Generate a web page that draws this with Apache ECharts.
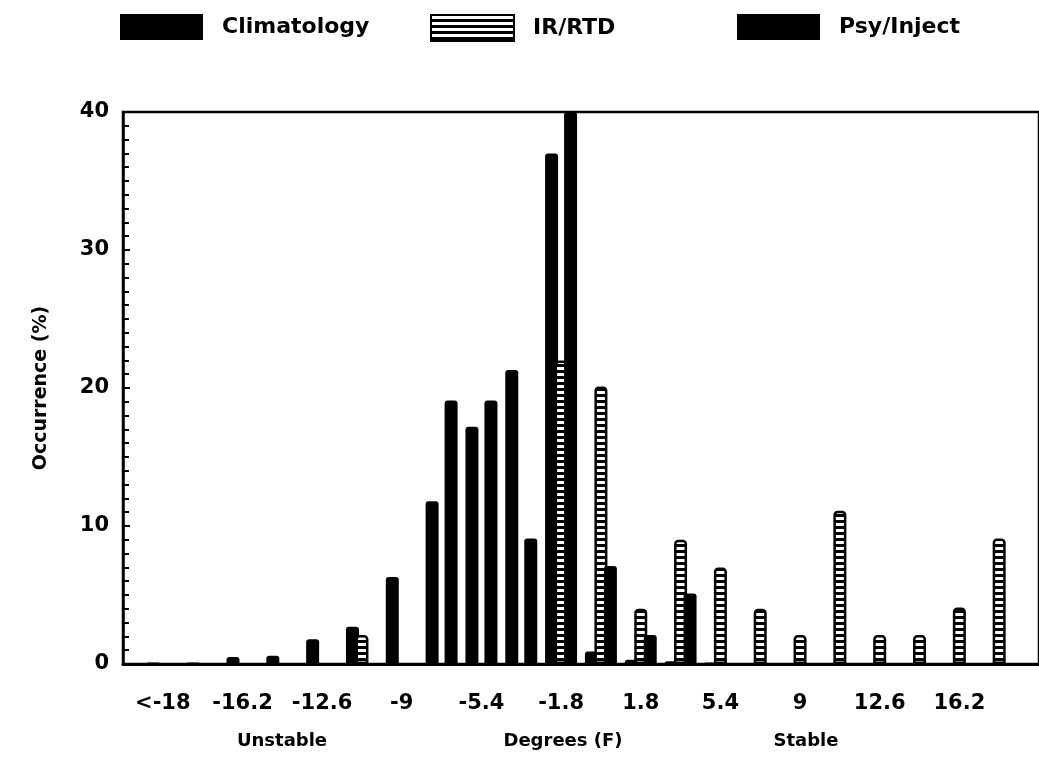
<!DOCTYPE html>
<html>
<head>
<meta charset="utf-8">
<script src="https://cdn.jsdelivr.net/npm/echarts@6/dist/echarts.min.js"></script>
<style>html,body{margin:0;padding:0;background:#fff;}#c{width:1039px;height:759px;}</style>
</head>
<body>
<div id="c"></div>
<script>
// Categories (bin labels, degrees F); blank pads at both ends
const categories = ['', '<-18', '-18', '-16.2', '-14.4', '-12.6', '-10.8', '-9', '-7.2', '-5.4', '-3.6', '-1.8', '0', '1.8', '3.6', '5.4', '7.2', '9', '10.8', '12.6', '14.4', '16.2', '18', ''];
// Series values (% occurrence)
const climatology = ['-', 0.1, 0.1, 0.5, 0.6, 1.8, 2.7, 6.3, 11.8, 17.2, 21.3, 37.0, 0.9, 0.3, 0.2, 0.1, 0, 0, 0, 0, 0, 0, 0, '-'];
const irRtd       = ['-', '-', '-', '-', '-', '-', 2.1, '-', '-', '-', '-', 22.0, 20.1, 4.0, 9.0, 7.0, 4.0, 2.1, 11.1, 2.1, 2.1, 4.1, 9.1, '-'];
const psyInject   = ['-', 0, 0, 0, 0, 0, 0, 0, 19.1, 19.1, 9.1, 41, 7.1, 2.1, 5.1, 0, 0, 0, 0, 0, 0, 0, 0, '-'];
const yTicks = [0, 10, 20, 30, 40];
const bottomNotes = ['Unstable', 'Degrees (F)', 'Stable'];

const FONT = 'DejaVu Sans';

// horizontal stripe pattern for IR/RTD
const pc = document.createElement('canvas');
pc.width = 4; pc.height = 6;
const pctx = pc.getContext('2d');
pctx.fillStyle = '#000'; pctx.fillRect(0, 0, 4, 6);
pctx.fillStyle = '#fff'; pctx.fillRect(0, 1, 4, 3);
const stripe = { image: pc, repeat: 'repeat' };

const chart = echarts.init(document.getElementById('c'), null, { renderer: 'canvas' });

function legendItem(name, left) {
  return {
    left: left, top: 14, padding: 0,
    itemWidth: 83, itemHeight: 26,
    icon: 'rect',
    data: [name],
    selectedMode: false,
    textStyle: { fontFamily: FONT, fontWeight: 'bold', fontSize: 22, color: '#000', padding: [0, 0, 0, 14] }
  };
}

chart.setOption({
  animation: false,
  backgroundColor: '#fff',
  legend: [legendItem('Climatology', 120), legendItem('IR/RTD', 430), legendItem('Psy/Inject', 737)],
  grid: { left: 123, top: 112, height: 552, width: 920, show: true, borderColor: '#000', borderWidth: 2.5, containLabel: false },
  xAxis: {
    type: 'category',
    data: categories,
    boundaryGap: false,
    axisLine: { lineStyle: { color: '#000', width: 3 } },
    axisTick: { show: false },
    axisLabel: {
      interval: function (index) { return index % 2 === 1 && index <= 21; },
      fontFamily: FONT, fontWeight: 'bold', fontSize: 21, color: '#000', margin: 29
    },
    splitLine: { show: false }
  },
  yAxis: {
    type: 'value',
    min: yTicks[0], max: yTicks[yTicks.length - 1], interval: 10,
    name: 'Occurrence (%)',
    nameLocation: 'middle',
    nameGap: 72,
    nameTextStyle: { fontFamily: FONT, fontWeight: 'bold', fontSize: 19, color: '#000' },
    axisLine: { show: true, lineStyle: { color: '#000', width: 2.5 } },
    axisTick: { show: true, inside: true, length: 7, lineStyle: { color: '#000', width: 2 } },
    minorTick: { show: true, splitNumber: 10, length: 6, lineStyle: { color: '#000', width: 2 } },
    axisLabel: { fontFamily: FONT, fontWeight: 'bold', fontSize: 21, color: '#000', margin: 14 },
    splitLine: { show: false }
  },
  series: [
    { name: 'Climatology', type: 'bar', data: climatology, barWidth: 13, barGap: '-27%',
      itemStyle: { color: '#000', borderRadius: [3, 3, 0, 0] }, clip: true },
    { name: 'IR/RTD', type: 'bar', data: irRtd, barWidth: 13, barGap: '-27%',
      itemStyle: { color: stripe, borderColor: '#000', borderWidth: 2.5, borderRadius: [3, 3, 0, 0] }, clip: true },
    { name: 'Psy/Inject', type: 'bar', data: psyInject, barWidth: 13, barGap: '-27%',
      itemStyle: { color: '#000', borderRadius: [3, 3, 0, 0] }, clip: true }
  ],
  graphic: [
    { type: 'text', x: 282, y: 732, style: { text: bottomNotes[0], font: 'bold 18px "DejaVu Sans"', fill: '#000', textAlign: 'center' } },
    { type: 'text', x: 563, y: 732, style: { text: bottomNotes[1], font: 'bold 18px "DejaVu Sans"', fill: '#000', textAlign: 'center' } },
    { type: 'text', x: 806, y: 732, style: { text: bottomNotes[2], font: 'bold 18px "DejaVu Sans"', fill: '#000', textAlign: 'center' } }
  ]
});
</script>
</body>
</html>
